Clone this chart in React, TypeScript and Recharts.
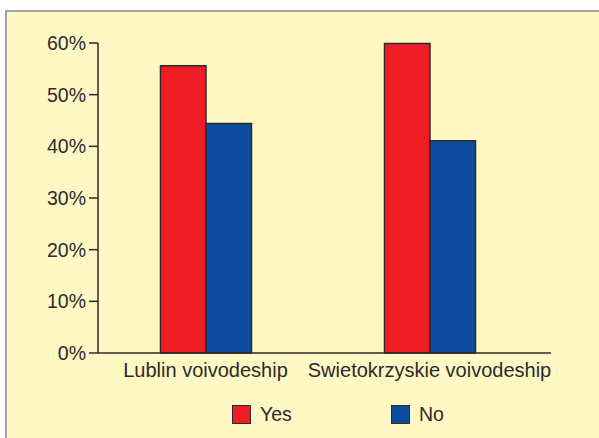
import React from "react";
import { BarChart, Bar, XAxis, YAxis, Legend } from "recharts";

const categories = ["Lublin voivodeship", "Swietokrzyskie voivodeship"];
const yesValues = [55.6, 59.9];
const noValues = [44.4, 41.1];
const yTicks = [0, 10, 20, 30, 40, 50, 60];
const seriesNames = ["Yes", "No"];
const seriesColors = ["#EE1D25", "#0D4C9E"];

const data = categories.map((name, i) => ({
  name,
  Yes: yesValues[i],
  No: noValues[i],
}));

const FONT = "'Liberation Sans', Arial, sans-serif";
const INK = "#2b2b2b";
const FS = 19.5;

const YTick = (props: any) => {
  const { x, y, payload } = props;
  return (
    <text x={x} y={y} dy="0.36em" textAnchor="end" fill={INK} fontSize={FS} fontFamily={FONT}>
      {`${payload.value}%`}
    </text>
  );
};

const XTick = (props: any) => {
  const { x, y, payload } = props;
  return (
    <text x={x} y={y} dy="0.71em" textAnchor="middle" fill={INK} fontSize={20} fontFamily={FONT}>
      {payload.value}
    </text>
  );
};

const LegendContent = (props: any) => {
  const payload = [...(props.payload || [])].sort(
    (a: any, b: any) => seriesNames.indexOf(a.value) - seriesNames.indexOf(b.value)
  );
  return (
    <div style={{ display: "flex", alignItems: "center", fontFamily: FONT, fontSize: FS, color: INK }}>
      {payload.map((p: any, i: number) => (
        <div
          key={p.value}
          style={{ display: "flex", alignItems: "center", width: i === 0 ? 159 : "auto" }}
        >
          <div
            style={{
              width: 17,
              height: 17,
              background: p.color,
              border: `1.5px solid ${INK}`,
              marginRight: 9,
            }}
          />
          <span style={{ lineHeight: "20px" }}>{p.value}</span>
        </div>
      ))}
    </div>
  );
};

export default function App() {
  return (
    <div style={{ position: "absolute", left: 0, top: 0, width: 599, height: 438, background: "#fff" }}>
      <div
        style={{
          position: "absolute",
          left: 5,
          top: 10,
          right: 0,
          bottom: 0,
          borderLeft: "2px solid #a3a3a3",
          borderTop: "2px solid #a3a3a3",
          background: "#FFF8C4",
        }}
      />
      <div style={{ position: "absolute", left: 0, top: 0 }}>
        <BarChart
          width={599}
          height={438}
          data={data}
          margin={{ top: 43, right: 48, bottom: 55, left: 0 }}
          barGap={0}
          barSize={45.5}
        >
          <XAxis
            dataKey="name"
            height={30}
            interval={0}
            tickLine={false}
            tickSize={8}
            tickMargin={2}
            padding={{ left: -4.5, right: 9.5 }}
            axisLine={{ stroke: INK, strokeWidth: 1.5 }}
            tick={<XTick />}
          />
          <YAxis
            width={98}
            domain={[0, 60]}
            ticks={yTicks}
            interval={0}
            tickSize={9}
            tickMargin={3}
            axisLine={{ stroke: INK, strokeWidth: 1.5 }}
            tickLine={{ stroke: INK, strokeWidth: 1.5 }}
            tick={<YTick />}
          />
          <Legend
            layout="horizontal"
            verticalAlign="middle"
            align="center"
            content={<LegendContent />}
            wrapperStyle={{ left: 232, top: 404, width: "auto", height: 20 }}
          />
          {seriesNames.map((s, i) => (
            <Bar
              key={s}
              dataKey={s}
              fill={seriesColors[i]}
              stroke={INK}
              strokeWidth={1.5}
              isAnimationActive={false}
            />
          ))}
        </BarChart>
      </div>
    </div>
  );
}
